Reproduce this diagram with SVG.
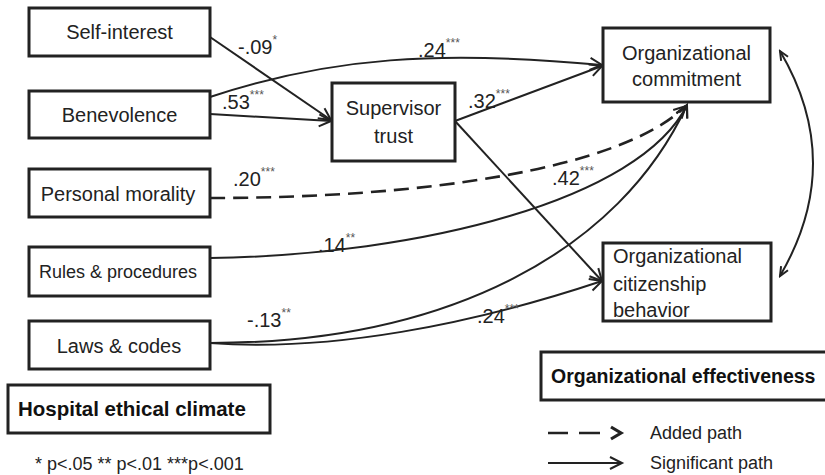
<svg xmlns="http://www.w3.org/2000/svg" width="825" height="475" viewBox="0 0 825 475">
<defs>
<style>
.box{fill:#fff;stroke:#222;stroke-width:3}
.t{font-family:"Liberation Sans",Arial,sans-serif;font-size:20px;fill:#222}
.b{font-family:"Liberation Sans",Arial,sans-serif;font-size:20.5px;font-weight:bold;fill:#111}
.lab{font-family:"Liberation Sans",Arial,sans-serif;font-size:20px;fill:#222}
.sup{font-size:12px;fill:#555}
.c{fill:none;stroke:#222;stroke-width:2}
.d{fill:none;stroke:#222;stroke-width:2.6;stroke-dasharray:15 8}
</style>
<marker id="a" markerUnits="userSpaceOnUse" markerWidth="16" markerHeight="16" refX="13" refY="7" orient="auto-start-reverse" viewBox="0 0 16 14">
<path d="M1,1 L13,7 L1,13" fill="none" stroke="#222" stroke-width="2"/>
</marker>
<marker id="s" markerUnits="userSpaceOnUse" markerWidth="12" markerHeight="12" refX="10" refY="5" orient="auto-start-reverse" viewBox="0 0 12 10">
<path d="M1,1 L10,5 L1,9" fill="none" stroke="#222" stroke-width="2"/>
</marker>
</defs>
<rect width="825" height="475" fill="#fff"/>

<g id="connectors">
<path class="c" d="M210,37 L331,120" marker-end="url(#a)"/>
<path class="c" d="M210,114 L331,121" marker-end="url(#a)"/>
<path class="c" d="M210,97 C330,57 440,50 602,65" marker-end="url(#a)"/>
<path class="c" d="M455,121 L602,66" marker-end="url(#a)"/>
<path class="c" d="M455,121 L602,281" marker-end="url(#a)"/>
<path class="d" d="M210,198 C420,198 620,170 686,106" marker-end="url(#a)"/>
<path class="c" d="M210,258 C420,255 640,200 687,105" marker-end="url(#a)"/>
<path class="c" d="M210,343 C450,343 620,250 687,105" marker-end="url(#a)"/>
<path class="c" d="M210,343 C330,352 470,325 602,281" marker-end="url(#a)"/>
<path class="c" d="M780,51 Q846,163 780,276" marker-start="url(#s)" marker-end="url(#s)"/>
</g>

<g id="labels">
<text class="lab" x="238" y="54">-.09<tspan class="sup" dy="-10">*</tspan></text>
<text class="lab" x="418" y="57">.24<tspan class="sup" dy="-10">***</tspan></text>
<text class="lab" x="222" y="109">.53<tspan class="sup" dy="-10">***</tspan></text>
<text class="lab" x="468" y="108">.32<tspan class="sup" dy="-10">***</tspan></text>
<text class="lab" x="233" y="186">.20<tspan class="sup" dy="-10">***</tspan></text>
<text class="lab" x="552" y="185">.42<tspan class="sup" dy="-10">***</tspan></text>
<text class="lab" x="318" y="252">.14<tspan class="sup" dy="-10">**</tspan></text>
<text class="lab" x="247" y="327">-.13<tspan class="sup" dy="-10">**</tspan></text>
<text class="lab" x="477" y="323">.24<tspan class="sup" dy="-10">***</tspan></text>
</g>

<g id="self-interest"><rect class="box" x="29" y="8" width="181" height="48"/><text class="t" x="119.5" y="39" text-anchor="middle">Self-interest</text></g>
<g id="benevolence"><rect class="box" x="29" y="91" width="181" height="47"/><text class="t" x="119.5" y="122" text-anchor="middle">Benevolence</text></g>
<g id="personal-morality"><rect class="box" x="29" y="169" width="181" height="48"/><text class="t" x="118" y="201" text-anchor="middle">Personal morality</text></g>
<g id="rules-procedures"><rect class="box" x="29" y="247" width="181" height="49"/><text class="t" x="118" y="278" text-anchor="middle" style="font-size:18px">Rules &amp; procedures</text></g>
<g id="laws-codes"><rect class="box" x="29" y="321" width="181" height="48"/><text class="t" x="119" y="353" text-anchor="middle">Laws &amp; codes</text></g>
<g id="hospital-ethical-climate"><rect class="box" x="8" y="385" width="262" height="48"/><text class="b" x="18" y="416">Hospital ethical climate</text></g>
<g id="supervisor-trust"><rect class="box" x="332" y="83" width="123" height="78"/><text class="t" x="393.5" y="115" text-anchor="middle">Supervisor</text><text class="t" x="393.5" y="143" text-anchor="middle">trust</text></g>
<g id="organizational-commitment"><rect class="box" x="603" y="28" width="167" height="74"/><text class="t" x="686.5" y="60" text-anchor="middle">Organizational</text><text class="t" x="686.5" y="86" text-anchor="middle">commitment</text></g>
<g id="organizational-citizenship-behavior"><rect class="box" x="603" y="243" width="168" height="78"/><text class="t" x="613" y="263">Organizational</text><text class="t" x="613" y="291">citizenship</text><text class="t" x="613" y="317">behavior</text></g>
<g id="organizational-effectiveness"><rect class="box" x="541" y="352" width="300" height="48"/><text class="b" x="551" y="383" style="font-size:19.5px">Organizational effectiveness</text></g>

<g id="legend">
<path d="M548,433 L568,433 M579,433 L600,433" stroke="#222" stroke-width="2.6" fill="none"/>
<path d="M611,427 L621,433 L611,439" fill="none" stroke="#222" stroke-width="3.2"/>
<path class="c" d="M548,463 L622,463" marker-end="url(#a)"/>
<text class="t" x="650" y="439" style="font-size:18px">Added path</text>
<text class="t" x="650" y="469" style="font-size:18px">Significant path</text>
<text class="t" x="35" y="470" style="font-size:18px">* p&lt;.05 ** p&lt;.01 ***p&lt;.001</text>
</g>
</svg>
